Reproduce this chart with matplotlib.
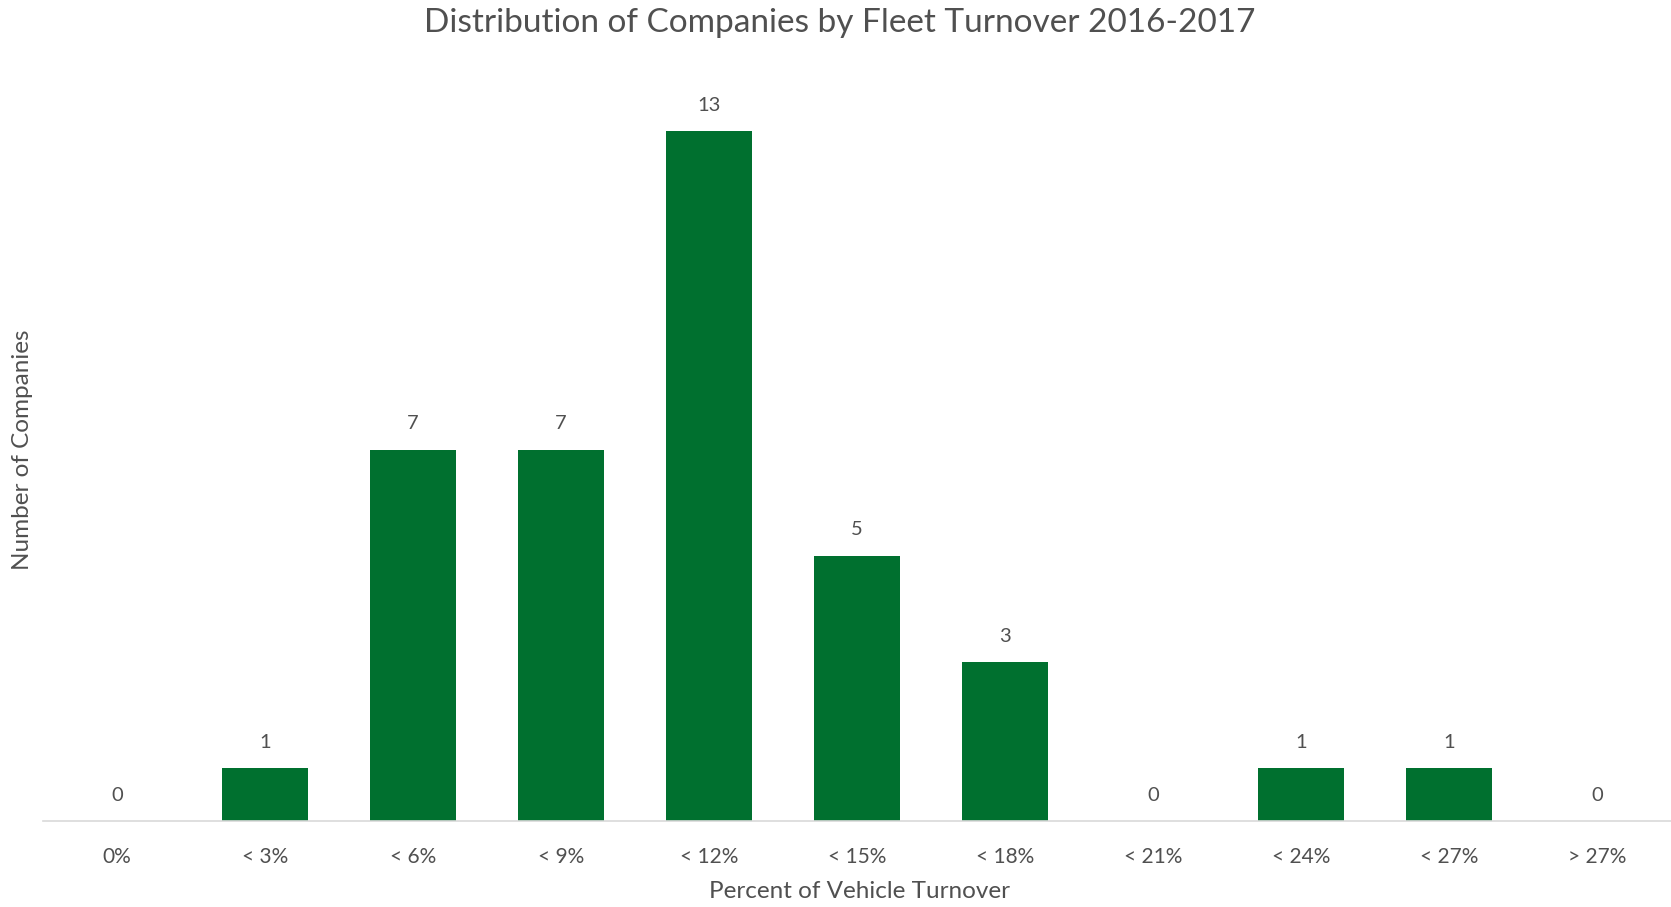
import matplotlib
matplotlib.use("Agg")
import matplotlib.pyplot as plt

categories = ["0%", "< 3%", "< 6%", "< 9%", "< 12%", "< 15%", "< 18%", "< 21%", "< 24%", "< 27%", "> 27%"]
counts = [0, 1, 7, 7, 13, 5, 3, 0, 1, 1, 0]

title = "Distribution of Companies by Fleet Turnover 2016-2017"
xlabel = "Percent of Vehicle Turnover"
ylabel = "Number of Companies"

plt.rcParams['font.family'] = ['Lato', 'DejaVu Sans']
text_color = "#505050"
bar_color = "#00702f"

fig = plt.figure(figsize=(16.71, 9.07), dpi=100)
ax = fig.add_axes([0.0257, 0.0948, 0.9743, 0.8192])
x = list(range(len(categories)))
bars = ax.bar(x, counts, width=0.58, color=bar_color, zorder=2)
ax.set_xlim(-0.5, len(categories) - 0.5)
ax.set_ylim(0, 14)

for xi, v in zip(x, counts):
    ax.annotate(str(v), (xi, v), xytext=(0, 18.5), textcoords="offset points",
                ha="center", va="center", fontsize=14.5, color=text_color)

for s in ["top", "right", "left"]:
    ax.spines[s].set_visible(False)
ax.spines["bottom"].set_color("#d9d9d9")
ax.spines["bottom"].set_linewidth(1.2)
ax.set_yticks([])
ax.set_xticks(x)
ax.set_xticklabels(categories, fontsize=15, color=text_color)
ax.tick_params(axis="x", length=0, pad=19)

fig.text(0.5025, 1 - 23 / 907, title, ha="center", va="center", fontsize=24, color=text_color)
fig.text(0.5145, 1 - 891 / 907, xlabel, ha="center", va="center", fontsize=17.5, color=text_color)
fig.text(23 / 1671, 1 - 450 / 907, ylabel, ha="center", va="center", rotation=90, fontsize=17.5, color=text_color)

fig.savefig("out.png", dpi=100)
